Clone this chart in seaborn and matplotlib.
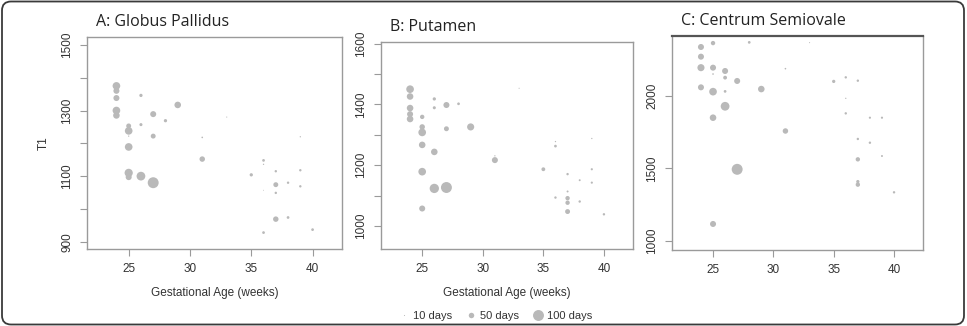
import numpy as np
import pandas as pd
import matplotlib
matplotlib.use("Agg")
import matplotlib.pyplot as plt
from matplotlib.colors import PowerNorm
from matplotlib.lines import Line2D
from matplotlib.patches import FancyBboxPatch
import seaborn as sns

# ---- data ----
gp_age = [24, 24, 24, 24, 24, 25, 25, 25, 25, 25, 25, 26, 26, 26, 27, 27, 27, 28, 29, 31, 31, 33,
          35, 36, 36, 36, 36, 37, 37, 37, 37, 38, 38, 39, 39, 39, 40]
gp_t1 = [1375, 1360, 1338, 1300, 1285, 1253, 1238, 1222, 1189, 1110, 1097, 1346, 1257, 1100, 1289,
         1222, 1080, 1269, 1317, 1218, 1152, 1280, 1104, 1148, 1136, 1057, 928, 1115, 1074, 1049,
         969, 1080, 974, 1220, 1118, 1069, 937]
gp_days = [70, 55, 55, 70, 60, 45, 70, 12, 70, 75, 55, 30, 28, 80, 55, 45, 100, 30, 60, 15, 50, 10,
           30, 25, 12, 8, 25, 22, 45, 22, 50, 22, 25, 12, 22, 22, 25]

pu_age = [24, 24, 24, 24, 24, 25, 25, 25, 25, 25, 25, 26, 26, 26, 26, 27, 27, 27, 28, 29, 31, 31,
          33, 35, 36, 36, 36, 37, 37, 37, 37, 37, 38, 38, 39, 39, 39, 40]
pu_t1 = [1450, 1426, 1388, 1368, 1352, 1359, 1326, 1308, 1267, 1179, 1058, 1418, 1389, 1244, 1124,
         1398, 1320, 1127, 1402, 1326, 1231, 1217, 1453, 1187, 1278, 1263, 1094, 1171, 1114, 1092,
         1077, 1048, 1151, 1081, 1288, 1187, 1143, 1039]
pu_days = [70, 60, 60, 55, 60, 40, 50, 70, 60, 70, 55, 30, 28, 60, 85, 55, 45, 100, 25, 65, 12, 55,
           10, 35, 12, 25, 22, 22, 18, 40, 40, 45, 18, 22, 12, 20, 20, 22]

cs_age = [24, 24, 24, 24, 25, 25, 25, 25, 25, 25, 26, 26, 26, 26, 27, 27, 28, 29, 31, 31, 33, 35,
          36, 36, 36, 37, 37, 37, 37, 37, 38, 38, 39, 39, 40]
cs_t1 = [2339, 2272, 2196, 2060, 2366, 2196, 2152, 2030, 1850, 1115, 2173, 2127, 2032, 1929, 2104,
         1493, 2371, 2048, 2189, 1758, 2369, 2101, 2129, 1984, 1880, 2106, 1703, 1562, 1408, 1387,
         1850, 1677, 1850, 1585, 1334]
cs_days = [55, 55, 65, 55, 40, 55, 15, 70, 60, 55, 55, 35, 25, 80, 55, 100, 25, 60, 15, 50, 10, 30,
           22, 12, 22, 22, 22, 40, 30, 40, 20, 22, 20, 18, 22]

titles = ["A: Globus Pallidus", "B: Putamen", "C: Centrum Semiovale"]
x_ticks = [25, 30, 35, 40]
legend_days = [10, 50, 100]
legend_labels = ["10 days", "50 days", "100 days"]

# ---- figure ----
W, H = 967, 326
fig = plt.figure(figsize=(W / 100, H / 100), dpi=100)
sns.set_style("white")
plt.rcParams["font.family"] = ["Liberation Sans", "DejaVu Sans"]

PT_COLOR = "#b9b9b9"
SPINE = "#9a9a9a"
TXT = "#333333"
MAX_AREA = 62.0  # area (pt^2) of a 100-day marker


def px_axes(l, r, t, b):
    return fig.add_axes([l / W, 1 - b / H, (r - l) / W, (b - t) / H])


boxes = [(87, 342, 37, 249), (381, 633, 42, 249), (672, 923, 36, 250)]
ylims = [(878, 1524), (925, 1605), (935, 2415)]
yticks = [list(range(900, 1501, 100)), list(range(1000, 1601, 100)), [1000, 1500, 2000]]
ylabel_every = [2, 2, 1]
datasets = [(gp_age, gp_t1, gp_days), (pu_age, pu_t1, pu_days), (cs_age, cs_t1, cs_days)]

for i, (box, (ages, t1, days)) in enumerate(zip(boxes, datasets)):
    ax = px_axes(*box)
    df = pd.DataFrame({"age": ages, "t1": t1, "days": days})
    sns.scatterplot(data=df, x="age", y="t1", size="days", sizes=(0, MAX_AREA),
                    size_norm=PowerNorm(gamma=2, vmin=0, vmax=100), color=PT_COLOR,
                    edgecolor="none", linewidth=0, legend=False, ax=ax)
    ax.set_xlim(21.6, 42.4)
    ax.set_ylim(*ylims[i])
    ax.set_xticks(x_ticks)
    ax.set_xticklabels([str(t) for t in x_ticks], fontsize=8.5, color=TXT)
    yt = yticks[i]
    ax.set_yticks(yt)
    ax.set_yticklabels([str(v) if k % ylabel_every[i] == 0 else "" for k, v in enumerate(yt)],
                       rotation=90, va="center", fontsize=8.5, color=TXT)
    ax.tick_params(axis="both", which="major", length=5, width=0.8, color=SPINE, pad=5,
                   direction="out", left=True, bottom=True)
    for s in ax.spines.values():
        s.set_color(SPINE)
        s.set_linewidth(1.0)
    if i == 2:
        ax.spines["top"].set_color("#555555")
        ax.spines["top"].set_linewidth(1.6)
    ax.set_xlabel("Gestational Age (weeks)" if i < 2 else "", fontsize=8.5, color=TXT, labelpad=9)
    ax.set_ylabel("T1" if i == 0 else "", fontsize=8.5, color=TXT, labelpad=8)
    ax.set_title(titles[i], loc="left", x=0.035, fontsize=11.5, color="#222222", pad=8,
                 fontfamily=["Open Sans", "DejaVu Sans"])

# legend
handles = [Line2D([], [], marker="o", linestyle="none", markerfacecolor=PT_COLOR,
                  markeredgecolor="none", markersize=np.sqrt(MAX_AREA) * d / 100)
           for d in legend_days]
fig.legend(handles, legend_labels, loc="center", bbox_to_anchor=(0.512, 1 - 316 / H), ncol=3,
           frameon=False, fontsize=8, handlelength=1.0, handletextpad=0.3, columnspacing=1.2,
           labelcolor=TXT)

# outer rounded frame
frame = FancyBboxPatch((2, 1.5), W - 5, H - 3, boxstyle="round,pad=0,rounding_size=9",
                       transform=None, facecolor="none", edgecolor="#3a3a3a", linewidth=1.3)
fig.patches.append(frame)

fig.savefig("out.png", dpi=100)
